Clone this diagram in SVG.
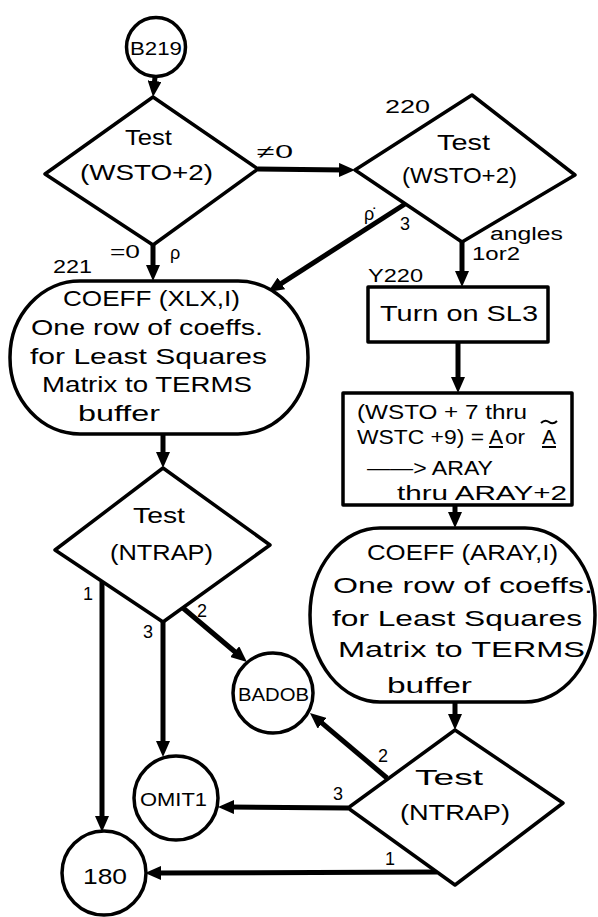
<svg xmlns="http://www.w3.org/2000/svg" width="598" height="917" viewBox="0 0 598 917">
  <style>
    .shape { fill: #fff; stroke: #000; stroke-width: 3.5; stroke-linejoin: round; }
    .conn { fill: none; stroke: #000; stroke-width: 5; }
    .mark { fill: none; stroke: #000; stroke-width: 2; }
    .t { font-family: "Liberation Sans", "DejaVu Sans", sans-serif; fill: #000; }
    .big { font-size: 22px; }
    .mid { font-size: 19px; }
    .box { font-size: 21px; }
    .lbl { font-size: 18px; }
  </style>
  <defs>
    <marker id="arrow" markerUnits="userSpaceOnUse" markerWidth="16" markerHeight="14" refX="6" refY="7" orient="auto">
      <path d="M0,0 L16,7 L0,14 z" fill="#000"/>
    </marker>
  </defs>

  <rect width="598" height="917" fill="#fff"/>

  <!-- connectors -->
  <g id="connectors">
    <line class="conn" x1="155" y1="77" x2="154" y2="87" marker-end="url(#arrow)"/>
    <line class="conn" x1="258" y1="169" x2="345" y2="170" marker-end="url(#arrow)"/>
    <line class="conn" x1="153" y1="245" x2="153" y2="271" marker-end="url(#arrow)"/>
    <line class="conn" x1="405" y1="204" x2="276.4" y2="286.6" marker-end="url(#arrow)"/>
    <line class="conn" x1="462" y1="242" x2="462" y2="277" marker-end="url(#arrow)"/>
    <line class="conn" x1="458" y1="342" x2="458" y2="383" marker-end="url(#arrow)"/>
    <line class="conn" x1="455" y1="505" x2="455" y2="518" marker-end="url(#arrow)"/>
    <line class="conn" x1="455" y1="702" x2="455" y2="720" marker-end="url(#arrow)"/>
    <line class="conn" x1="163" y1="434" x2="163" y2="458" marker-end="url(#arrow)"/>
    <line class="conn" x1="102" y1="582" x2="102" y2="822" marker-end="url(#arrow)"/>
    <line class="conn" x1="163" y1="622" x2="163" y2="747" marker-end="url(#arrow)"/>
    <line class="conn" x1="183" y1="608" x2="239.3" y2="655.5" marker-end="url(#arrow)"/>
    <line class="conn" x1="387" y1="778" x2="317.6" y2="719.4" marker-end="url(#arrow)"/>
    <line class="conn" x1="348" y1="808" x2="228" y2="807" marker-end="url(#arrow)"/>
    <line class="conn" x1="437" y1="872" x2="155" y2="873" marker-end="url(#arrow)"/>
  </g>

  <!-- connector labels -->
  <g id="edge-labels" class="t lbl">
    <text x="257" y="158" textLength="36" lengthAdjust="spacingAndGlyphs">≠0</text>
    <text x="110" y="258" textLength="30" lengthAdjust="spacingAndGlyphs">=0</text>
    <text x="170" y="259">ρ</text>
    <text x="364" y="220">ρ̇</text>
    <text x="400" y="230">3</text>
    <text x="490" y="240" textLength="73" lengthAdjust="spacingAndGlyphs">angles</text>
    <text x="472" y="260" textLength="48" lengthAdjust="spacingAndGlyphs">1or2</text>
    <text x="83" y="600">1</text>
    <text x="143" y="638">3</text>
    <text x="197" y="617">2</text>
    <text x="378" y="762">2</text>
    <text x="333" y="800">3</text>
    <text x="385" y="865">1</text>
  </g>

  <!-- step labels -->
  <g id="step-labels" class="t lbl">
    <text x="53" y="273" textLength="39" lengthAdjust="spacingAndGlyphs">221</text>
    <text x="385" y="113" textLength="45" lengthAdjust="spacingAndGlyphs">220</text>
    <text x="368" y="282" textLength="55" lengthAdjust="spacingAndGlyphs">Y220</text>
  </g>

  <!-- entry connector B219 -->
  <g id="B219">
    <circle class="shape" cx="156" cy="47" r="29.5"/>
    <text class="t mid" x="130" y="55" textLength="52" lengthAdjust="spacingAndGlyphs">B219</text>
  </g>

  <!-- first test of WSTO+2 -->
  <g id="test-wsto-1">
    <polygon class="shape" points="153,97 258,169 153,245 45,174"/>
    <text class="t big" x="125" y="145" textLength="47" lengthAdjust="spacingAndGlyphs">Test</text>
    <text class="t big" x="80" y="180" textLength="133" lengthAdjust="spacingAndGlyphs">(WSTO+2)</text>
  </g>

  <!-- second test of WSTO+2 (step 220) -->
  <g id="test-wsto-2">
    <polygon class="shape" points="472,95 575,175 462,242 355,170"/>
    <text class="t big" x="437" y="150" textLength="53" lengthAdjust="spacingAndGlyphs">Test</text>
    <text class="t big" x="402" y="183" textLength="115" lengthAdjust="spacingAndGlyphs">(WSTO+2)</text>
  </g>

  <!-- COEFF (XLX,I) subroutine (step 221) -->
  <g id="coeff-xlx">
    <rect class="shape" x="10" y="281" width="298" height="153" rx="70" ry="76"/>
    <g class="t big">
      <text x="63" y="306" textLength="177" lengthAdjust="spacingAndGlyphs">COEFF (XLX,I)</text>
      <text x="31" y="335" textLength="232" lengthAdjust="spacingAndGlyphs">One row of coeffs.</text>
      <text x="30" y="364" textLength="237" lengthAdjust="spacingAndGlyphs">for Least Squares</text>
      <text x="42" y="392" textLength="210" lengthAdjust="spacingAndGlyphs">Matrix to TERMS</text>
      <text x="78" y="421" textLength="82" lengthAdjust="spacingAndGlyphs">buffer</text>
    </g>
  </g>

  <!-- Turn on SL3 (step Y220) -->
  <g id="turn-on-sl3">
    <rect class="shape" x="368" y="287" width="180" height="55"/>
    <text class="t big" x="380" y="321" textLength="158" lengthAdjust="spacingAndGlyphs">Turn on SL3</text>
  </g>

  <!-- copy of WSTO+7..WSTO+9 into ARAY -->
  <g id="move-to-aray">
    <rect class="shape" x="343" y="393" width="229" height="112"/>
    <g class="t box">
      <text x="357" y="419" textLength="170" lengthAdjust="spacingAndGlyphs">(WSTO + 7 thru</text>
      <text x="357" y="444" textLength="127" lengthAdjust="spacingAndGlyphs">WSTC +9) =</text>
      <text x="489" y="444" textLength="14" lengthAdjust="spacingAndGlyphs">A</text>
      <text x="505" y="444" textLength="20" lengthAdjust="spacingAndGlyphs">or</text>
      <text x="542" y="444" textLength="14" lengthAdjust="spacingAndGlyphs">A</text>
      <text x="367" y="475" textLength="126" lengthAdjust="spacingAndGlyphs">——&gt; ARAY</text>
      <text x="397" y="500" textLength="170" lengthAdjust="spacingAndGlyphs">thru ARAY+2</text>
    </g>
    <!-- vector marks: underlines and tilde -->
    <line class="mark" x1="489" y1="447" x2="503" y2="447"/>
    <line class="mark" x1="542" y1="447" x2="556" y2="447"/>
    <path class="mark" d="M541,423 q4,-4 8,-1 t8,-1"/>
  </g>

  <!-- COEFF (ARAY,I) subroutine -->
  <g id="coeff-aray">
    <rect class="shape" x="310" y="528" width="285" height="174" rx="70" ry="87"/>
    <g class="t big">
      <text x="367" y="560" textLength="191" lengthAdjust="spacingAndGlyphs">COEFF (ARAY,I)</text>
      <text x="333" y="593" textLength="260" lengthAdjust="spacingAndGlyphs">One row of coeffs.</text>
      <text x="332" y="626" textLength="250" lengthAdjust="spacingAndGlyphs">for Least Squares</text>
      <text x="338" y="657" textLength="247" lengthAdjust="spacingAndGlyphs">Matrix to TERMS</text>
      <text x="387" y="693" textLength="85" lengthAdjust="spacingAndGlyphs">buffer</text>
    </g>
  </g>

  <!-- NTRAP test after first COEFF -->
  <g id="test-ntrap-1">
    <polygon class="shape" points="163,468 270,545 163,622 55,550"/>
    <text class="t big" x="133" y="523" textLength="52" lengthAdjust="spacingAndGlyphs">Test</text>
    <text class="t big" x="110" y="560" textLength="103" lengthAdjust="spacingAndGlyphs">(NTRAP)</text>
  </g>

  <!-- NTRAP test after second COEFF -->
  <g id="test-ntrap-2">
    <polygon class="shape" points="455,730 563,803 455,885 348,808"/>
    <text class="t big" x="415" y="785" textLength="68" lengthAdjust="spacingAndGlyphs">Test</text>
    <text class="t big" x="400" y="820" textLength="110" lengthAdjust="spacingAndGlyphs">(NTRAP)</text>
  </g>

  <!-- exit connectors -->
  <g id="BADOB">
    <circle class="shape" cx="273" cy="693" r="40"/>
    <text class="t mid" x="238" y="701" textLength="71" lengthAdjust="spacingAndGlyphs">BADOB</text>
  </g>

  <g id="OMIT1">
    <circle class="shape" cx="176" cy="798" r="42"/>
    <text class="t mid" x="140" y="806" textLength="67" lengthAdjust="spacingAndGlyphs">OMIT1</text>
  </g>

  <g id="n180">
    <circle class="shape" cx="104" cy="873" r="42"/>
    <text class="t big" x="83" y="884" textLength="44" lengthAdjust="spacingAndGlyphs">180</text>
  </g>
</svg>
